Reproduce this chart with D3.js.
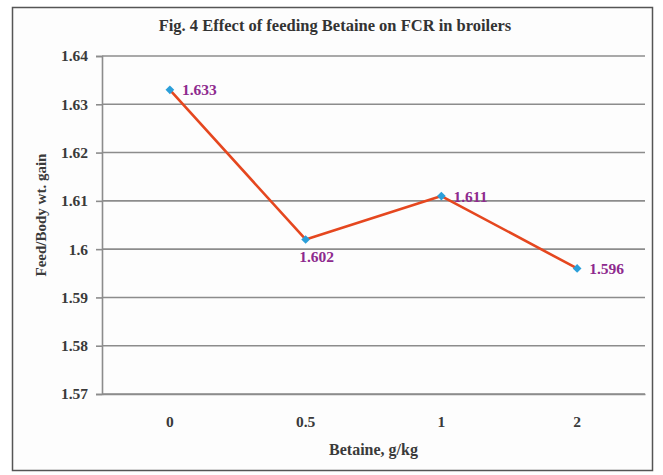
<!DOCTYPE html>
<html>
<head>
<meta charset="utf-8">
<script src="https://cdn.jsdelivr.net/npm/d3@7"></script>
<style>
  html, body { margin: 0; padding: 0; background: #fff; }
  svg { display: block; }
  text { font-family: "Liberation Serif", "DejaVu Serif", serif; font-weight: bold; }
</style>
</head>
<body>
<svg id="chart" width="663" height="475"></svg>
<script>
// Betaine levels (g/kg) and feed conversion ratio
const categories = ["0", "0.5", "1", "2"];
const fcrValues = [1.633, 1.602, 1.611, 1.596];
const yTicks = [1.57, 1.58, 1.59, 1.60, 1.61, 1.62, 1.63, 1.64];
const yTickLabels = ["1.57", "1.58", "1.59", "1.6", "1.61", "1.62", "1.63", "1.64"];
// label placement per point: "right" or "below"
const labelPlacement = ["right", "below", "right", "right"];

const svg = d3.select("#chart");
const W = 663, H = 475;
const margin = { left: 102, right: 18, top: 56, bottom: 81 };
const serif = "'Liberation Serif', 'DejaVu Serif', serif";

// outer frame
svg.append("rect")
  .attr("x", 12.5).attr("y", 7.5)
  .attr("width", 640).attr("height", 463)
  .attr("fill", "#fdfdfd")
  .attr("stroke", "#555").attr("stroke-width", 1.5);

const x = d3.scaleBand()
  .domain(categories)
  .range([margin.left, W - margin.right]);

const y = d3.scaleLinear()
  .domain([1.57, 1.64])
  .range([H - margin.bottom, margin.top]);

// horizontal gridlines
svg.append("g")
  .selectAll("line")
  .data(yTicks)
  .join("line")
  .attr("x1", margin.left).attr("x2", W - margin.right)
  .attr("y1", d => y(d)).attr("y2", d => y(d))
  .attr("stroke", "#8c8c8c").attr("stroke-width", 1.6);

// y axis
const yAxis = d3.axisLeft(y)
  .tickValues(yTicks)
  .tickFormat((d, i) => yTickLabels[i])
  .tickSize(6).tickPadding(8);
const gy = svg.append("g")
  .attr("transform", `translate(${margin.left},0)`)
  .call(yAxis);
gy.select(".domain").attr("stroke", "#8c8c8c").attr("stroke-width", 1.6);
gy.selectAll(".tick line").attr("stroke", "#8c8c8c").attr("stroke-width", 1.6);
gy.selectAll(".tick text")
  .attr("fill", "#3a3a3a").attr("font-size", 15.5)
  .style("font-family", serif).style("font-weight", "bold");

// x axis
const xAxis = d3.axisBottom(x).tickSize(0).tickPadding(22);
const gx = svg.append("g")
  .attr("transform", `translate(0,${H - margin.bottom})`)
  .call(xAxis);
gx.select(".domain").attr("stroke", "#8c8c8c").attr("stroke-width", 1.6);
gx.selectAll(".tick text")
  .attr("fill", "#3a3a3a").attr("font-size", 15.5)
  .style("font-family", serif).style("font-weight", "bold");

// title
svg.append("text")
  .attr("x", 335).attr("y", 31)
  .attr("text-anchor", "middle")
  .attr("font-size", 16.5)
  .attr("fill", "#333")
  .text("Fig. 4 Effect of feeding Betaine on FCR in broilers");

// axis titles
svg.append("text")
  .attr("x", (margin.left + W - margin.right) / 2)
  .attr("y", 455)
  .attr("text-anchor", "middle")
  .attr("font-size", 16)
  .attr("fill", "#3a3a3a")
  .text("Betaine, g/kg");

svg.append("text")
  .attr("transform", "translate(46,215) rotate(-90)")
  .attr("text-anchor", "middle")
  .attr("font-size", 15)
  .attr("fill", "#3a3a3a")
  .text("Feed/Body wt. gain");

// data line
const cx = (d, i) => x(categories[i]) + x.bandwidth() / 2;
const line = d3.line()
  .x((d, i) => cx(d, i))
  .y(d => y(d));

svg.append("path")
  .datum(fcrValues)
  .attr("d", line)
  .attr("fill", "none")
  .attr("stroke", "#e5471f")
  .attr("stroke-width", 2.6)
  .attr("stroke-linejoin", "round");

// diamond markers (squares turned 45°)
svg.append("g")
  .selectAll("path")
  .data(fcrValues)
  .join("path")
  .attr("d", d3.symbol(d3.symbolSquare, 38))
  .attr("transform", (d, i) => `translate(${cx(d, i)},${y(d)}) rotate(45)`)
  .attr("fill", "#2b9fd9");

// value labels
svg.append("g")
  .selectAll("text")
  .data(fcrValues)
  .join("text")
  .attr("x", (d, i) => labelPlacement[i] === "right" ? cx(d, i) + 12 : cx(d, i) + 11)
  .attr("y", (d, i) => labelPlacement[i] === "right" ? y(d) + 5.5 : y(d) + 23)
  .attr("text-anchor", (d, i) => labelPlacement[i] === "right" ? "start" : "middle")
  .attr("font-size", 15.5)
  .attr("fill", "#8e2a8e")
  .text(d => d3.format(".3f")(d));
</script>
</body>
</html>
